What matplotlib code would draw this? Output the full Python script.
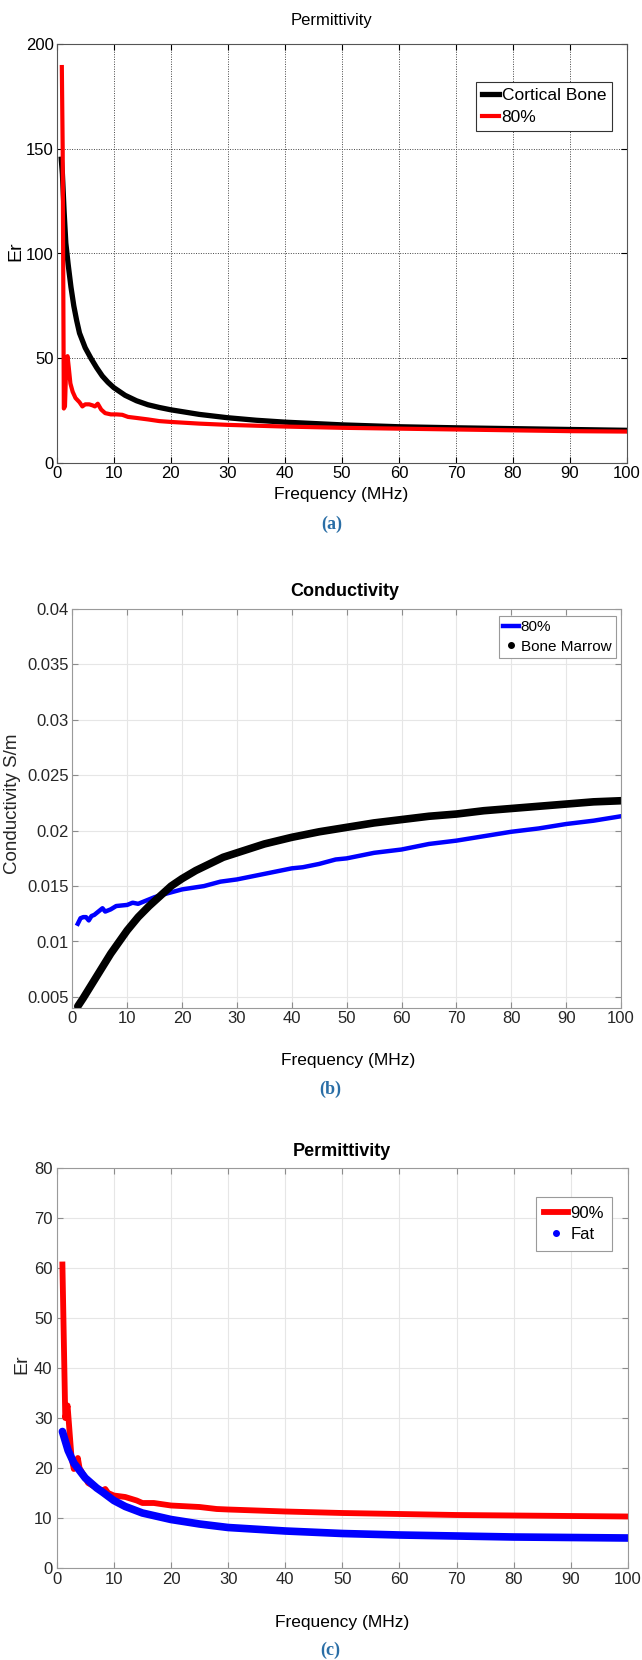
import matplotlib
matplotlib.use("Agg")
import matplotlib.pyplot as plt
from matplotlib.lines import Line2D

plt.rcParams['font.family'] = ['Liberation Sans', 'DejaVu Sans']

# (a) permittivity, cortical bone vs 80%
freq_bone = [0.8, 1.0, 1.3, 1.6, 2.0, 2.5, 3, 3.5, 4, 5, 6, 7, 8, 9, 10, 12, 14, 16, 18, 20,
             25, 30, 35, 40, 50, 60, 70, 80, 90, 100]
er_bone = [145, 138, 120, 105, 95, 84, 75, 68, 62, 55, 50, 45.5, 41.5, 38.5, 36, 32.3, 29.7, 27.8,
           26.5, 25.4, 23.2, 21.6, 20.4, 19.5, 18.2, 17.3, 16.8, 16.4, 16.0, 15.6]
freq_80a = [0.9, 1.05, 1.25, 1.45, 1.7, 1.9, 2.1, 2.4, 2.8, 3.3, 4.0, 4.5, 5.0, 5.7, 6.3, 6.7,
            7.2, 7.8, 8.5, 9.5, 10.5, 11.5, 12.5, 14, 16, 18, 20, 25, 30, 40, 50, 60, 70, 80, 90, 100]
er_80a = [189, 150, 26, 27, 49, 51, 46, 38, 34, 31, 29, 27, 28, 28, 27.5, 27, 28.3, 25.5, 23.8,
          23.2, 23.2, 23, 22, 21.5, 20.8, 20, 19.6, 18.8, 18.2, 17.4, 16.8, 16.4, 16.0, 15.6, 15.2, 15.0]

# (b) conductivity, 80% vs bone marrow
freq_marrow = [1, 2, 3, 4, 5, 6, 7, 8, 9, 10, 12, 14, 16, 18, 20, 22.5, 25, 27.5, 30, 35, 40, 45,
               50, 55, 60, 65, 70, 75, 80, 85, 90, 95, 100]
sig_marrow = [0.00415, 0.0049, 0.0057, 0.0065, 0.0073, 0.0081, 0.0089, 0.0096, 0.0103, 0.0110,
              0.0122, 0.0132, 0.0141, 0.0150, 0.01567, 0.0164, 0.0170, 0.0176, 0.0180, 0.0188,
              0.0194, 0.0199, 0.0203, 0.0207, 0.0210, 0.0213, 0.0215, 0.0218, 0.0220, 0.0222,
              0.0224, 0.0226, 0.0227]
freq_80b = [1, 1.5, 2, 2.5, 3, 3.5, 4, 5, 5.5, 6, 7, 8, 10, 11, 12, 14, 15, 17, 20, 24, 27, 30,
            35, 40, 42, 45, 48, 50, 55, 60, 65, 70, 75, 80, 85, 90, 95, 100]
sig_80b = [0.0116, 0.0121, 0.0122, 0.0122, 0.0119, 0.0123, 0.0124, 0.0128, 0.0130, 0.0127,
           0.0129, 0.0132, 0.0133, 0.0135, 0.0134, 0.0138, 0.0140, 0.0143, 0.0147, 0.0150,
           0.0154, 0.0156, 0.0161, 0.0166, 0.0167, 0.0170, 0.0174, 0.0175, 0.0180, 0.0183,
           0.0188, 0.0191, 0.0195, 0.0199, 0.0202, 0.0206, 0.0209, 0.0213]

# (c) permittivity, 90% vs fat
freq_90 = [1.0, 1.5, 1.9, 2.2, 2.6, 3.0, 3.3, 3.7, 4.0, 4.5, 5.5, 7, 8, 8.5, 9, 10, 12, 14, 15,
           17, 20, 25, 28, 30, 40, 50, 60, 70, 80, 90, 100]
er_90 = [60.7, 30, 32.5, 28, 22, 19.8, 20.5, 22, 20, 19, 17, 16, 15.5, 15.8, 15, 14.5, 14.2,
         13.5, 13, 13, 12.5, 12.2, 11.8, 11.7, 11.3, 11.0, 10.8, 10.6, 10.5, 10.4, 10.3]
freq_fat = [1, 2, 3, 4, 5, 6, 7, 8, 10, 12, 15, 20, 25, 30, 40, 50, 60, 70, 80, 90, 100]
er_fat = [27.3, 23.5, 21, 19.5, 18, 17, 16, 15.2, 13.5, 12.3, 11, 9.7, 8.8, 8.1, 7.4, 6.9, 6.6,
          6.4, 6.2, 6.1, 6.0]

W, H = 642, 1660
fig = plt.figure(figsize=(W / 100, H / 100), dpi=100)


def box(l, r, t, b):
    # pixel edges -> figure fraction
    return [l / W, 1 - b / H, (r - l) / W, (b - t) / H]


def ftext(x, y, s, **kw):
    fig.text(x / W, 1 - y / H, s, ha='center', va='center', **kw)


cap_col = '#2a6ea6'
serif = ['Liberation Serif', 'DejaVu Serif']

# ---------- (a) old matlab style ----------
ax1 = fig.add_axes(box(56.7, 627, 44, 463))
ax1.plot(freq_bone, er_bone, color='black', lw=3.8, label='Cortical Bone')
ax1.plot(freq_80a, er_80a, color='red', lw=3.0, label='80%')
ax1.set_xlim(0, 100)
ax1.set_ylim(0, 200)
ax1.set_xticks(range(0, 101, 10))
ax1.set_yticks(range(0, 201, 50))
ax1.grid(True, color='#444444', ls=(0, (1, 1.5)), lw=0.7)
ax1.tick_params(direction='in', top=True, right=True, length=4, pad=2, labelsize=12)
for sp in ax1.spines.values():
    sp.set_color('#555555')
leg = ax1.legend(loc='upper right', bbox_to_anchor=(0.974, 0.909), borderaxespad=0,
                 fancybox=False, edgecolor='#333333', fontsize=12.5, handlelength=1.0,
                 handletextpad=0.15, borderpad=0.35, labelspacing=0.35, framealpha=1)
leg.get_frame().set_linewidth(0.8)
ftext(332, 20, 'Permittivity', fontsize=12)
ftext(341, 495, 'Frequency (MHz)', fontsize=12.5)
ftext(16, 251, 'Er', fontsize=14, rotation=90)
ftext(332, 524, '(a)', fontsize=13, weight='bold', family=serif, color=cap_col)

# ---------- (b) ----------
ax2 = fig.add_axes(box(72.3, 621, 609, 1008))
ax2.plot(freq_80b, sig_80b, color='blue', lw=3.2)
ax2.plot(freq_marrow, sig_marrow, color='black', lw=5.5, solid_capstyle='round',
         solid_joinstyle='round')
ax2.set_xlim(0, 100)
ax2.set_ylim(0.004, 0.04)
ax2.set_xticks(range(0, 101, 10))
ax2.set_yticks([0.005, 0.01, 0.015, 0.02, 0.025, 0.03, 0.035, 0.04])
ax2.set_yticklabels(['0.005', '0.01', '0.015', '0.02', '0.025', '0.03', '0.035', '0.04'])
ax2.grid(True, color='#e6e6e6', lw=0.8)
ax2.tick_params(direction='in', top=True, right=True, length=4, pad=2.5, labelsize=12,
                color='#8c8c8c', labelcolor='#262626')
for sp in ax2.spines.values():
    sp.set_color('#9a9a9a')
h2 = [Line2D([], [], color='blue', lw=3.2),
      Line2D([], [], color='black', marker='.', ls='none', markersize=8)]
leg = ax2.legend(h2, ['80%', 'Bone Marrow'], loc='upper right', bbox_to_anchor=(0.991, 0.983),
                 borderaxespad=0, fancybox=False, edgecolor='#9a9a9a', fontsize=11,
                 handlelength=1.0, handletextpad=0.15, borderpad=0.3, labelspacing=0.35,
                 framealpha=1)
leg.get_frame().set_linewidth(0.8)
ftext(345, 591, 'Conductivity', fontsize=13, weight='bold')
ftext(348, 1060, 'Frequency (MHz)', fontsize=12.5)
ftext(13, 804, 'Conductivity S/m', fontsize=13.5, rotation=90, color='#262626')
ftext(330, 1089, '(b)', fontsize=13, weight='bold', family=serif, color=cap_col)

# ---------- (c) ----------
ax3 = fig.add_axes(box(56.7, 628, 1168, 1568))
ax3.plot(freq_90, er_90, color='red', lw=4.2)
ax3.plot(freq_fat, er_fat, color='blue', lw=5.5, solid_capstyle='round')
ax3.set_xlim(0, 100)
ax3.set_ylim(0, 80)
ax3.set_xticks(range(0, 101, 10))
ax3.set_yticks(range(0, 81, 10))
ax3.grid(True, color='#e6e6e6', lw=0.8)
ax3.tick_params(direction='in', top=True, right=True, length=4, pad=3, labelsize=12,
                color='#8c8c8c', labelcolor='#262626')
for sp in ax3.spines.values():
    sp.set_color('#9a9a9a')
h3 = [Line2D([], [], color='red', lw=4.2),
      Line2D([], [], color='blue', marker='.', ls='none', markersize=8)]
leg = ax3.legend(h3, ['90%', 'Fat'], loc='upper right', bbox_to_anchor=(0.972, 0.927),
                 borderaxespad=0, fancybox=False, edgecolor='#9a9a9a', fontsize=12,
                 handlelength=1.4, handletextpad=0.15, borderpad=0.5, labelspacing=0.4,
                 framealpha=1)
leg.get_frame().set_linewidth(0.8)
ftext(342, 1151, 'Permittivity', fontsize=13, weight='bold')
ftext(342, 1622, 'Frequency (MHz)', fontsize=12.5)
ftext(22, 1364, 'Er', fontsize=14, rotation=90, color='#262626')
ftext(330, 1650, '(c)', fontsize=13, weight='bold', family=serif, color=cap_col)

fig.savefig('out.png', dpi=100)
